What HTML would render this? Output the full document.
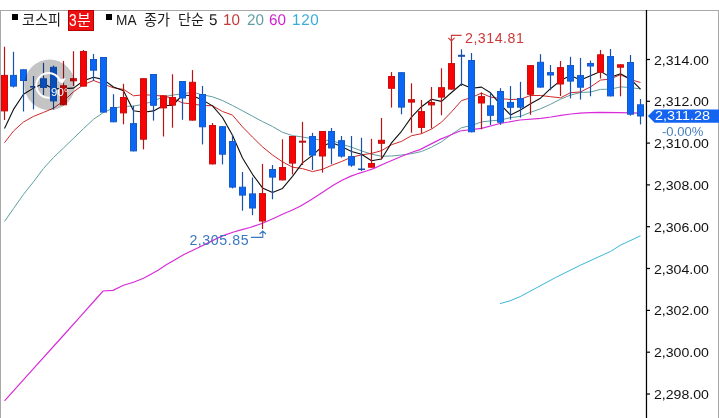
<!DOCTYPE html>
<html lang="ko"><head><meta charset="utf-8"><title>코스피 3분</title>
<style>
html,body{margin:0;padding:0;background:#fff;}
body{width:719px;height:418px;position:relative;overflow:hidden;font-family:"Liberation Sans","Noto Sans CJK KR",sans-serif;}
#frame{position:absolute;left:0;top:10px;width:717px;height:420px;border:1px solid #a8a8a8;border-bottom:none;}
.t{position:absolute;white-space:nowrap;line-height:1;color:#1a1a1a;transform-origin:0 0;}
.k{font-size:14.5px;top:12.9px;transform:scaleX(0.975);}
.l{font-size:15.2px;top:12.3px;}
.d{font-size:15.5px;top:12.1px;transform:scaleX(0.98) rotate(0.03deg);}
.sq{position:absolute;top:14px;width:6px;height:6px;background:#000;}
.ax{position:absolute;left:654px;font-size:12.6px;line-height:1;color:#111;white-space:nowrap;transform-origin:0 0;transform:scaleX(1.12);}
#min{position:absolute;left:68px;top:10px;width:24px;height:19px;background:#ee1010;border:1px solid #b40000;}
</style></head><body>
<div id="frame"></div>
<svg width="719" height="418" viewBox="0 0 719 418" style="position:absolute;left:0;top:0">
<polyline points="4.5,221.5 13.5,208.6 23.5,194.4 33.5,181.8 43.5,168.4 53.5,157.5 63.5,148.0 73.5,138.3 83.5,128.7 93.5,119.3 103.5,112.4 113.5,108.0 123.5,106.5 133.5,106.0 143.5,104.3 153.5,101.0 163.5,96.8 172.5,95.1 182.5,93.8 192.5,92.2 202.5,94.8 212.5,96.8 222.5,100.5 232.5,105.5 242.5,110.8 252.5,116.2 262.5,121.6 272.5,126.5 282.5,132.3 292.5,135.6 302.5,137.0 312.5,138.7 322.5,140.4 331.5,140.2 341.5,144.2 351.5,147.2 361.5,150.9 371.5,154.2 381.5,156.2 391.5,156.0 401.5,155.0 411.5,153.7 421.5,151.5 431.5,147.2 441.5,141.8 451.5,134.5 461.5,127.7 471.5,125.5 481.5,121.9 490.5,120.9 500.5,120.0 510.5,117.6 520.5,116.4 530.5,112.3 540.5,108.8 550.5,104.3 560.5,99.2 570.5,95.1 580.5,92.5 590.5,92.0 600.5,89.4 610.5,89.2 620.5,86.9 630.5,87.5 640.5,89.0" fill="none" stroke="#5f9ea0" stroke-width="1"/>
<polyline points="4.5,142.7 13.5,131.0 23.5,122.0 33.5,116.4 43.5,112.4 53.5,108.2 63.5,101.0 73.5,91.8 83.5,84.7 93.5,80.5 103.5,84.2 113.5,87.8 123.5,89.4 133.5,95.8 143.5,94.8 153.5,95.2 163.5,96.2 172.5,98.1 182.5,102.9 192.5,104.0 202.5,105.5 212.5,105.7 222.5,111.5 232.5,115.1 242.5,126.9 252.5,137.1 262.5,146.9 272.5,155.0 282.5,161.8 292.5,167.2 302.5,168.6 312.5,171.6 322.5,169.3 331.5,165.4 341.5,161.5 351.5,157.2 361.5,154.9 371.5,153.4 381.5,150.7 391.5,144.7 401.5,141.4 411.5,135.7 421.5,133.7 431.5,129.1 441.5,122.2 451.5,111.9 461.5,100.6 471.5,97.5 481.5,93.1 490.5,97.1 500.5,98.6 510.5,99.5 520.5,99.2 530.5,95.5 540.5,95.5 550.5,96.7 560.5,97.8 570.5,92.7 580.5,91.9 590.5,86.9 600.5,80.1 610.5,79.0 620.5,74.6 630.5,79.6 640.5,82.5" fill="none" stroke="#d02828" stroke-width="1"/>
<polyline points="4.5,400.9 33.9,368.2 62.0,337.0 81.8,314.9 96.0,299.0 103.0,291.0 113.0,290.3 123.5,285.3 133.5,282.3 143.5,278.3 150.0,274.8 158.0,270.3 166.7,264.6 175.0,259.8 183.5,254.8 200.2,246.8 208.6,242.6 216.9,238.4 225.3,234.9 233.7,232.0 242.0,229.6 250.0,227.5 262.6,223.3 275.1,217.7 283.5,213.8 291.8,210.3 300.2,206.2 308.6,201.3 316.9,196.0 325.3,190.4 333.7,185.1 342.0,180.2 350.4,176.4 358.8,173.3 367.2,170.8 373.5,168.6 383.5,164.0 393.5,159.7 403.5,155.5 413.5,151.8 420.0,149.6 440.0,139.4 450.0,135.2 460.0,131.0 481.5,128.3 500.0,123.5 520.0,120.0 541.0,118.3 551.0,117.0 561.0,115.4 571.0,114.0 580.0,113.2 590.0,112.6 600.0,112.3 620.0,112.6 640.5,113.2" fill="none" stroke="#d82cd8" stroke-width="1.2"/>
<polyline points="500.1,303.6 510.1,300.8 520.2,296.6 555.3,277.7 580.4,265.2 610.6,251.4 620.6,245.1 640.5,235.8" fill="none" stroke="#3cb4dc" stroke-width="1"/>
<polyline points="4.5,128.6 13.5,109.4 23.5,94.3 33.5,88.1 43.5,83.6 53.5,88.9 63.5,88.6 73.5,88.1 83.5,80.8 93.5,77.3 103.5,79.6 113.5,87.0 123.5,90.7 133.5,110.8 143.5,112.3 153.5,110.9 163.5,105.5 172.5,105.5 182.5,95.0 192.5,95.7 202.5,100.0 212.5,105.9 222.5,117.5 232.5,135.3 242.5,158.0 252.5,174.3 262.5,187.9 272.5,192.5 282.5,188.4 292.5,176.4 302.5,162.9 312.5,155.4 322.5,146.1 331.5,142.4 341.5,146.5 351.5,151.5 361.5,154.3 371.5,160.7 381.5,159.0 391.5,142.9 401.5,131.3 411.5,117.1 421.5,106.7 431.5,99.2 441.5,101.4 451.5,92.5 461.5,84.0 471.5,88.3 481.5,87.1 490.5,92.8 500.5,104.7 510.5,114.9 520.5,110.0 530.5,103.8 540.5,98.2 550.5,88.7 560.5,80.6 570.5,75.4 580.5,79.9 590.5,75.7 600.5,71.4 610.5,77.3 620.5,73.8 630.5,79.2 640.5,89.2" fill="none" stroke="#101010" stroke-width="1.1" stroke-linejoin="round"/>
<line x1="4.50" y1="46.7" x2="4.50" y2="120.0" stroke="#b81414" stroke-width="1.2"/>
<rect x="1.50" y="75.40" width="6" height="35.50" fill="#f80404" stroke="#c80e0e" stroke-width="1"/>
<line x1="13.50" y1="51.8" x2="13.50" y2="87.5" stroke="#1a50a8" stroke-width="1.2"/>
<rect x="10.50" y="75.40" width="6" height="10.70" fill="#0a66f4" stroke="#145ac8" stroke-width="1"/>
<line x1="23.50" y1="69.3" x2="23.50" y2="111.5" stroke="#1a50a8" stroke-width="1.2"/>
<rect x="20.50" y="69.80" width="6" height="10.70" fill="#0a66f4" stroke="#145ac8" stroke-width="1"/>
<line x1="33.50" y1="76.0" x2="33.50" y2="109.4" stroke="#1a50a8" stroke-width="1.2"/>
<rect x="30.00" y="86.0" width="7" height="1.6" fill="#1a50a8"/>
<line x1="43.50" y1="62.8" x2="43.50" y2="95.0" stroke="#1a50a8" stroke-width="1.2"/>
<rect x="40.50" y="78.80" width="6" height="8.60" fill="#0a66f4" stroke="#145ac8" stroke-width="1"/>
<line x1="53.50" y1="65.6" x2="53.50" y2="109.5" stroke="#1a50a8" stroke-width="1.2"/>
<rect x="50.50" y="67.30" width="6" height="33.60" fill="#0a66f4" stroke="#145ac8" stroke-width="1"/>
<line x1="63.50" y1="60.9" x2="63.50" y2="105.3" stroke="#b81414" stroke-width="1.2"/>
<rect x="60.50" y="85.80" width="6" height="19.00" fill="#f80404" stroke="#c80e0e" stroke-width="1"/>
<line x1="73.50" y1="51.2" x2="73.50" y2="85.9" stroke="#b81414" stroke-width="1.2"/>
<rect x="70.50" y="78.70" width="6" height="2.10" fill="#f80404" stroke="#c80e0e" stroke-width="1"/>
<line x1="83.50" y1="50.0" x2="83.50" y2="86.6" stroke="#b81414" stroke-width="1.2"/>
<rect x="80.50" y="51.50" width="6" height="34.60" fill="#f80404" stroke="#c80e0e" stroke-width="1"/>
<line x1="93.50" y1="54.0" x2="93.50" y2="81.0" stroke="#1a50a8" stroke-width="1.2"/>
<rect x="90.50" y="59.50" width="6" height="10.70" fill="#0a66f4" stroke="#145ac8" stroke-width="1"/>
<line x1="103.50" y1="57.0" x2="103.50" y2="112.6" stroke="#1a50a8" stroke-width="1.2"/>
<rect x="100.50" y="57.50" width="6" height="54.60" fill="#0a66f4" stroke="#145ac8" stroke-width="1"/>
<line x1="113.50" y1="94.2" x2="113.50" y2="122.3" stroke="#1a50a8" stroke-width="1.2"/>
<rect x="110.50" y="107.50" width="6" height="14.30" fill="#0a66f4" stroke="#145ac8" stroke-width="1"/>
<line x1="123.50" y1="83.8" x2="123.50" y2="124.3" stroke="#b81414" stroke-width="1.2"/>
<rect x="120.50" y="97.50" width="6" height="15.40" fill="#f80404" stroke="#c80e0e" stroke-width="1"/>
<line x1="133.50" y1="105.9" x2="133.50" y2="151.4" stroke="#1a50a8" stroke-width="1.2"/>
<rect x="130.50" y="123.60" width="6" height="27.30" fill="#0a66f4" stroke="#145ac8" stroke-width="1"/>
<line x1="143.50" y1="78.2" x2="143.50" y2="149.4" stroke="#b81414" stroke-width="1.2"/>
<rect x="140.50" y="78.70" width="6" height="60.50" fill="#f80404" stroke="#c80e0e" stroke-width="1"/>
<line x1="153.50" y1="74.0" x2="153.50" y2="120.6" stroke="#1a50a8" stroke-width="1.2"/>
<rect x="150.50" y="74.50" width="6" height="30.80" fill="#0a66f4" stroke="#145ac8" stroke-width="1"/>
<line x1="163.50" y1="95.3" x2="163.50" y2="136.5" stroke="#b81414" stroke-width="1.2"/>
<rect x="160.50" y="95.80" width="6" height="12.10" fill="#f80404" stroke="#c80e0e" stroke-width="1"/>
<line x1="172.50" y1="74.3" x2="172.50" y2="127.7" stroke="#b81414" stroke-width="1.2"/>
<rect x="169.50" y="97.50" width="6" height="7.60" fill="#f80404" stroke="#c80e0e" stroke-width="1"/>
<line x1="182.50" y1="81.0" x2="182.50" y2="119.8" stroke="#1a50a8" stroke-width="1.2"/>
<rect x="179.50" y="81.50" width="6" height="16.50" fill="#0a66f4" stroke="#145ac8" stroke-width="1"/>
<line x1="192.50" y1="70.1" x2="192.50" y2="120.6" stroke="#b81414" stroke-width="1.2"/>
<rect x="189.50" y="82.30" width="6" height="37.80" fill="#f80404" stroke="#c80e0e" stroke-width="1"/>
<line x1="202.50" y1="86.0" x2="202.50" y2="144.4" stroke="#1a50a8" stroke-width="1.2"/>
<rect x="199.50" y="94.50" width="6" height="32.30" fill="#0a66f4" stroke="#145ac8" stroke-width="1"/>
<line x1="212.50" y1="123.0" x2="212.50" y2="164.4" stroke="#b81414" stroke-width="1.2"/>
<rect x="209.50" y="125.50" width="6" height="38.40" fill="#f80404" stroke="#c80e0e" stroke-width="1"/>
<line x1="222.50" y1="126.2" x2="222.50" y2="164.4" stroke="#1a50a8" stroke-width="1.2"/>
<rect x="219.50" y="126.70" width="6" height="27.50" fill="#0a66f4" stroke="#145ac8" stroke-width="1"/>
<line x1="232.50" y1="135.0" x2="232.50" y2="188.4" stroke="#1a50a8" stroke-width="1.2"/>
<rect x="229.50" y="141.50" width="6" height="45.60" fill="#0a66f4" stroke="#145ac8" stroke-width="1"/>
<line x1="242.50" y1="172.0" x2="242.50" y2="210.7" stroke="#1a50a8" stroke-width="1.2"/>
<rect x="239.50" y="187.20" width="6" height="7.90" fill="#0a66f4" stroke="#145ac8" stroke-width="1"/>
<line x1="252.50" y1="177.5" x2="252.50" y2="215.2" stroke="#1a50a8" stroke-width="1.2"/>
<rect x="249.50" y="193.90" width="6" height="14.10" fill="#0a66f4" stroke="#145ac8" stroke-width="1"/>
<line x1="262.50" y1="163.9" x2="262.50" y2="229.0" stroke="#b81414" stroke-width="1.2"/>
<rect x="259.50" y="193.60" width="6" height="27.40" fill="#f80404" stroke="#c80e0e" stroke-width="1"/>
<line x1="272.50" y1="165.0" x2="272.50" y2="199.3" stroke="#1a50a8" stroke-width="1.2"/>
<rect x="269.50" y="169.50" width="6" height="7.60" fill="#0a66f4" stroke="#145ac8" stroke-width="1"/>
<line x1="282.50" y1="139.3" x2="282.50" y2="180.4" stroke="#b81414" stroke-width="1.2"/>
<rect x="279.50" y="167.50" width="6" height="12.40" fill="#f80404" stroke="#c80e0e" stroke-width="1"/>
<line x1="292.50" y1="136.0" x2="292.50" y2="174.4" stroke="#b81414" stroke-width="1.2"/>
<rect x="289.50" y="136.50" width="6" height="26.60" fill="#f80404" stroke="#c80e0e" stroke-width="1"/>
<line x1="302.50" y1="121.9" x2="302.50" y2="165.0" stroke="#b81414" stroke-width="1.2"/>
<rect x="299.00" y="140.7" width="7" height="2.0" fill="#b81414"/>
<line x1="312.50" y1="132.8" x2="312.50" y2="170.0" stroke="#1a50a8" stroke-width="1.2"/>
<rect x="309.50" y="136.50" width="6" height="18.60" fill="#0a66f4" stroke="#145ac8" stroke-width="1"/>
<line x1="322.50" y1="131.0" x2="322.50" y2="172.6" stroke="#b81414" stroke-width="1.2"/>
<rect x="319.50" y="131.50" width="6" height="24.50" fill="#f80404" stroke="#c80e0e" stroke-width="1"/>
<line x1="331.50" y1="128.0" x2="331.50" y2="164.3" stroke="#1a50a8" stroke-width="1.2"/>
<rect x="328.50" y="131.50" width="6" height="16.50" fill="#0a66f4" stroke="#145ac8" stroke-width="1"/>
<line x1="341.50" y1="136.0" x2="341.50" y2="157.6" stroke="#1a50a8" stroke-width="1.2"/>
<rect x="338.50" y="140.70" width="6" height="15.40" fill="#0a66f4" stroke="#145ac8" stroke-width="1"/>
<line x1="351.50" y1="136.0" x2="351.50" y2="166.8" stroke="#1a50a8" stroke-width="1.2"/>
<rect x="348.50" y="156.60" width="6" height="8.50" fill="#0a66f4" stroke="#145ac8" stroke-width="1"/>
<line x1="361.50" y1="137.7" x2="361.50" y2="171.0" stroke="#1a50a8" stroke-width="1.2"/>
<rect x="358.00" y="168.5" width="7" height="1.5" fill="#1a50a8"/>
<line x1="371.50" y1="138.8" x2="371.50" y2="167.7" stroke="#b81414" stroke-width="1.2"/>
<rect x="368.50" y="163.50" width="6" height="3.70" fill="#f80404" stroke="#c80e0e" stroke-width="1"/>
<line x1="381.50" y1="118.0" x2="381.50" y2="159.3" stroke="#b81414" stroke-width="1.2"/>
<rect x="378.50" y="140.30" width="6" height="3.00" fill="#f80404" stroke="#c80e0e" stroke-width="1"/>
<line x1="391.50" y1="72.1" x2="391.50" y2="107.6" stroke="#b81414" stroke-width="1.2"/>
<rect x="388.50" y="76.50" width="6" height="11.80" fill="#f80404" stroke="#c80e0e" stroke-width="1"/>
<line x1="401.50" y1="72.2" x2="401.50" y2="114.3" stroke="#1a50a8" stroke-width="1.2"/>
<rect x="398.50" y="72.70" width="6" height="34.40" fill="#0a66f4" stroke="#145ac8" stroke-width="1"/>
<line x1="411.50" y1="83.3" x2="411.50" y2="132.7" stroke="#b81414" stroke-width="1.2"/>
<rect x="408.50" y="99.70" width="6" height="2.40" fill="#f80404" stroke="#c80e0e" stroke-width="1"/>
<line x1="421.50" y1="100.0" x2="421.50" y2="133.5" stroke="#b81414" stroke-width="1.2"/>
<rect x="418.50" y="111.60" width="6" height="15.80" fill="#f80404" stroke="#c80e0e" stroke-width="1"/>
<line x1="431.50" y1="87.0" x2="431.50" y2="128.5" stroke="#b81414" stroke-width="1.2"/>
<rect x="428.50" y="102.50" width="6" height="2.40" fill="#f80404" stroke="#c80e0e" stroke-width="1"/>
<line x1="441.50" y1="68.3" x2="441.50" y2="115.3" stroke="#b81414" stroke-width="1.2"/>
<rect x="438.50" y="87.70" width="6" height="9.40" fill="#f80404" stroke="#c80e0e" stroke-width="1"/>
<line x1="451.50" y1="41.0" x2="451.50" y2="89.6" stroke="#b81414" stroke-width="1.2"/>
<rect x="448.50" y="63.60" width="6" height="25.50" fill="#f80404" stroke="#c80e0e" stroke-width="1"/>
<line x1="461.50" y1="49.3" x2="461.50" y2="86.0" stroke="#1a50a8" stroke-width="1.2"/>
<rect x="458.00" y="54.8" width="7" height="2.0" fill="#1a50a8"/>
<line x1="471.50" y1="53.0" x2="471.50" y2="132.3" stroke="#1a50a8" stroke-width="1.2"/>
<rect x="468.50" y="60.50" width="6" height="71.30" fill="#0a66f4" stroke="#145ac8" stroke-width="1"/>
<line x1="481.50" y1="92.4" x2="481.50" y2="129.3" stroke="#b81414" stroke-width="1.2"/>
<rect x="478.50" y="96.60" width="6" height="6.40" fill="#f80404" stroke="#c80e0e" stroke-width="1"/>
<line x1="490.50" y1="92.7" x2="490.50" y2="125.0" stroke="#1a50a8" stroke-width="1.2"/>
<rect x="487.50" y="105.80" width="6" height="9.50" fill="#0a66f4" stroke="#145ac8" stroke-width="1"/>
<line x1="500.50" y1="88.2" x2="500.50" y2="124.8" stroke="#1a50a8" stroke-width="1.2"/>
<rect x="497.50" y="91.50" width="6" height="30.70" fill="#0a66f4" stroke="#145ac8" stroke-width="1"/>
<line x1="510.50" y1="86.0" x2="510.50" y2="119.7" stroke="#1a50a8" stroke-width="1.2"/>
<rect x="507.50" y="102.40" width="6" height="4.90" fill="#0a66f4" stroke="#145ac8" stroke-width="1"/>
<line x1="520.50" y1="81.8" x2="520.50" y2="117.6" stroke="#1a50a8" stroke-width="1.2"/>
<rect x="517.50" y="98.50" width="6" height="8.70" fill="#0a66f4" stroke="#145ac8" stroke-width="1"/>
<line x1="530.50" y1="65.1" x2="530.50" y2="114.8" stroke="#b81414" stroke-width="1.2"/>
<rect x="527.50" y="65.60" width="6" height="28.70" fill="#f80404" stroke="#c80e0e" stroke-width="1"/>
<line x1="540.50" y1="54.2" x2="540.50" y2="87.6" stroke="#1a50a8" stroke-width="1.2"/>
<rect x="537.50" y="62.30" width="6" height="24.80" fill="#0a66f4" stroke="#145ac8" stroke-width="1"/>
<line x1="550.50" y1="65.0" x2="550.50" y2="90.3" stroke="#1a50a8" stroke-width="1.2"/>
<rect x="547.50" y="72.60" width="6" height="2.40" fill="#0a66f4" stroke="#145ac8" stroke-width="1"/>
<line x1="560.50" y1="61.0" x2="560.50" y2="96.0" stroke="#b81414" stroke-width="1.2"/>
<rect x="557.50" y="67.60" width="6" height="16.40" fill="#f80404" stroke="#c80e0e" stroke-width="1"/>
<line x1="570.50" y1="56.8" x2="570.50" y2="98.4" stroke="#1a50a8" stroke-width="1.2"/>
<rect x="567.50" y="65.50" width="6" height="15.60" fill="#0a66f4" stroke="#145ac8" stroke-width="1"/>
<line x1="580.50" y1="58.0" x2="580.50" y2="99.6" stroke="#1a50a8" stroke-width="1.2"/>
<rect x="577.50" y="75.60" width="6" height="11.60" fill="#0a66f4" stroke="#145ac8" stroke-width="1"/>
<line x1="590.50" y1="60.6" x2="590.50" y2="96.3" stroke="#1a50a8" stroke-width="1.2"/>
<rect x="587.50" y="63.50" width="6" height="2.50" fill="#0a66f4" stroke="#145ac8" stroke-width="1"/>
<line x1="600.50" y1="50.0" x2="600.50" y2="78.5" stroke="#b81414" stroke-width="1.2"/>
<rect x="597.50" y="54.80" width="6" height="17.40" fill="#f80404" stroke="#c80e0e" stroke-width="1"/>
<line x1="610.50" y1="49.0" x2="610.50" y2="96.4" stroke="#1a50a8" stroke-width="1.2"/>
<rect x="607.50" y="56.50" width="6" height="39.40" fill="#0a66f4" stroke="#145ac8" stroke-width="1"/>
<line x1="620.50" y1="64.3" x2="620.50" y2="96.3" stroke="#b81414" stroke-width="1.2"/>
<rect x="617.50" y="64.80" width="6" height="2.40" fill="#f80404" stroke="#c80e0e" stroke-width="1"/>
<line x1="630.50" y1="55.0" x2="630.50" y2="115.7" stroke="#1a50a8" stroke-width="1.2"/>
<rect x="627.50" y="62.50" width="6" height="51.70" fill="#0a66f4" stroke="#145ac8" stroke-width="1"/>
<line x1="640.50" y1="99.0" x2="640.50" y2="124.4" stroke="#1a50a8" stroke-width="1.2"/>
<rect x="637.50" y="104.80" width="6" height="11.20" fill="#0a66f4" stroke="#145ac8" stroke-width="1"/>
<path d="M461.6 35.4H451.4V41 M448.3 37.8L451.4 41L454.6 37.8" fill="none" stroke="#cc3a3a" stroke-width="1.1"/>
<path d="M250.9 237.4H262.8V231.1 M259.6 234L262.8 231L266 234" fill="none" stroke="#3a78c0" stroke-width="1.1"/>
<circle cx="49.6" cy="84.8" r="25.3" fill="#000" fill-opacity="0.23"/>
<path d="M60.6 82.2A12.4 12.4 0 1 0 49.6 97.8" fill="none" stroke="#fff" stroke-width="2"/>
<path d="M57.3 79.9L65.7 78L62.9 83.8Z" fill="#fff"/>
<rect x="645.85" y="10" width="1.25" height="408" fill="#000"/>
<rect x="646" y="58.9" width="4" height="1.2" fill="#000"/>
<rect x="646" y="100.7" width="4" height="1.2" fill="#000"/>
<rect x="646" y="142.5" width="4" height="1.2" fill="#000"/>
<rect x="646" y="184.3" width="4" height="1.2" fill="#000"/>
<rect x="646" y="226.1" width="4" height="1.2" fill="#000"/>
<rect x="646" y="267.9" width="4" height="1.2" fill="#000"/>
<rect x="646" y="309.8" width="4" height="1.2" fill="#000"/>
<rect x="646" y="351.6" width="4" height="1.2" fill="#000"/>
<rect x="646" y="393.4" width="4" height="1.2" fill="#000"/>
<path d="M647.9 116.1L654.6 109.4H719V122.8H654.6Z" fill="#1464f0"/>
</svg>
<div class="sq" style="left:12px"></div>
<div class="t k" style="left:22px">코스피</div>
<div id="min"></div>
<div id="minl"><span class="t" style="left:69.0px;top:11.7px;font-size:16.3px;color:#fff;transform:scaleX(0.84)">3</span><span class="t" style="left:77.3px;top:13.4px;font-size:15.5px;color:#fff;transform:scaleX(0.965)">분</span></div>
<div class="sq" style="left:106px"></div>
<div class="t l" style="left:116px;transform:scaleX(0.9)">MA</div>
<div class="t k" style="left:144px">종가</div>
<div class="t k" style="left:178px">단순</div>
<div class="t d" style="left:209.2px">5</div>
<div class="t d" style="left:223.3px;color:#c43a3a">10</div>
<div class="t d" style="left:246.5px;color:#5f9ea0">20</div>
<div class="t d" style="left:268.8px;color:#d020d0">60</div>
<div class="t d" style="left:291.6px;color:#36acdc;letter-spacing:0.7px">120</div>
<div class="t" style="left:465px;top:30.7px;font-size:14.2px;color:#cc3a3a;letter-spacing:0.52px">2,314.81</div>
<div class="t" style="left:189.4px;top:232.7px;font-size:14.2px;color:#3a78c0;letter-spacing:0.56px">2,305.85</div>
<div class="t" style="left:51px;top:86.8px;font-size:11.5px;color:#fff">90°</div>
<div class="ax" style="top:54.5px">2,314.00</div>
<div class="ax" style="top:96.3px">2,312.00</div>
<div class="ax" style="top:138.1px">2,310.00</div>
<div class="ax" style="top:179.9px">2,308.00</div>
<div class="ax" style="top:221.7px">2,306.00</div>
<div class="ax" style="top:263.6px">2,304.00</div>
<div class="ax" style="top:305.4px">2,302.00</div>
<div class="ax" style="top:347.2px">2,300.00</div>
<div class="ax" style="top:389.0px">2,298.00</div>
<div class="t" style="left:654.5px;top:109.7px;font-size:12.9px;color:#fff;transform:scaleX(1.12)">2,311.28</div>
<div class="t" style="left:662px;top:126.1px;font-size:12.2px;color:#4a80bc;transform:scaleX(1.07)">-0.00%</div>
</body></html>
